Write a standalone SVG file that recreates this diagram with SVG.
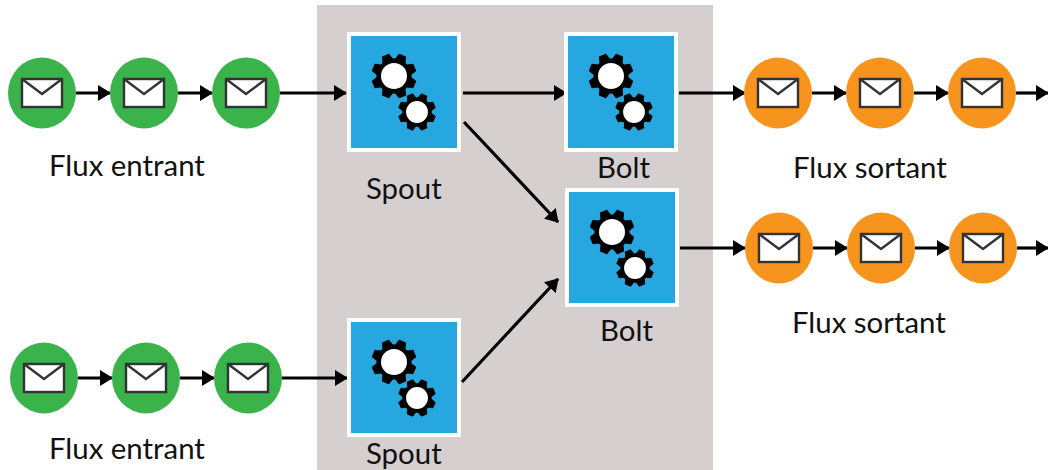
<svg xmlns="http://www.w3.org/2000/svg" width="1048" height="470" viewBox="0 0 1048 470">
<style>
text{font-family:Lato,"Open Sans",sans-serif;font-size:29.4px;fill:#111}
.c{stroke:#000;stroke-width:3.2;fill:none;marker-end:url(#a)}
.g{fill:#39b34a}.o{fill:#f7941d}
.e{fill:#fff;stroke:#333;stroke-width:2.4}
.f{fill:none;stroke:#333;stroke-width:2.4}
.b{fill:#27a7df;stroke:#fff;stroke-width:4}
.k{fill:#000;stroke:#000;stroke-width:1;stroke-linejoin:round}
</style>
<defs>
<marker id="a" markerUnits="userSpaceOnUse" markerWidth="13" markerHeight="16" refX="12" refY="8" orient="auto"><path d="M0 0L13 8L0 16Z" fill="#000"/></marker>
<g id="env"><rect class="e" x="-20" y="-14" width="40" height="28"/><path class="f" d="M-20-14L0 1L20-14"/></g>
<path id="tooth" class="k" d="M-5.5-15L-3.5-22H3.5L5.5-15Z"/>
<g id="gear">
<circle r="17.5" fill="#000"/>
<use href="#tooth" transform="rotate(22.5)"/><use href="#tooth" transform="rotate(67.5)"/>
<use href="#tooth" transform="rotate(112.5)"/><use href="#tooth" transform="rotate(157.5)"/>
<use href="#tooth" transform="rotate(202.5)"/><use href="#tooth" transform="rotate(247.5)"/>
<use href="#tooth" transform="rotate(292.5)"/><use href="#tooth" transform="rotate(337.5)"/>
<circle r="13" fill="#fff"/>
</g>
<g id="gears">
<use href="#gear" transform="translate(394 76)"/>
<use href="#gear" transform="translate(417 112) scale(.84)"/>
</g>
</defs>
<rect id="panel" x="317" y="5" width="396" height="465" fill="#d6cfd0"/>
<g id="connectors">
<path class="c" d="M76 93H110"/><path class="c" d="M178 93H212"/><path class="c" d="M280 93H346"/>
<path class="c" d="M78 378H112"/><path class="c" d="M180 378H214"/><path class="c" d="M282 378H347"/>
<path class="c" d="M463 93H566"/><path class="c" d="M464 122L558 222"/><path class="c" d="M462 382L558 279"/>
<path class="c" d="M679 93H745"/><path class="c" d="M812 93H846"/><path class="c" d="M914 93H948"/><path class="c" d="M1016 93H1048"/>
<path class="c" d="M680 248H745"/><path class="c" d="M813 248H847"/><path class="c" d="M915 248H949"/><path class="c" d="M1017 248H1048"/>
</g>
<g id="in1a"><ellipse class="g" cx="42" cy="93" rx="34" ry="35.5"/><use href="#env" x="42" y="93"/></g>
<g id="in1b"><ellipse class="g" cx="144" cy="93" rx="34" ry="35.5"/><use href="#env" x="144" y="93"/></g>
<g id="in1c"><ellipse class="g" cx="246" cy="93" rx="34" ry="35.5"/><use href="#env" x="246" y="93"/></g>
<g id="in2a"><ellipse class="g" cx="44" cy="378" rx="34" ry="35.5"/><use href="#env" x="44" y="378"/></g>
<g id="in2b"><ellipse class="g" cx="146" cy="378" rx="34" ry="35.5"/><use href="#env" x="146" y="378"/></g>
<g id="in2c"><ellipse class="g" cx="248" cy="378" rx="34" ry="35.5"/><use href="#env" x="248" y="378"/></g>
<g id="out1a"><ellipse class="o" cx="778" cy="93" rx="34" ry="35.5"/><use href="#env" x="778" y="93"/></g>
<g id="out1b"><ellipse class="o" cx="880" cy="93" rx="34" ry="35.5"/><use href="#env" x="880" y="93"/></g>
<g id="out1c"><ellipse class="o" cx="982" cy="93" rx="34" ry="35.5"/><use href="#env" x="982" y="93"/></g>
<g id="out2a"><ellipse class="o" cx="779" cy="248" rx="34" ry="35.5"/><use href="#env" x="779" y="248"/></g>
<g id="out2b"><ellipse class="o" cx="881" cy="248" rx="34" ry="35.5"/><use href="#env" x="881" y="248"/></g>
<g id="out2c"><ellipse class="o" cx="983" cy="248" rx="34" ry="35.5"/><use href="#env" x="983" y="248"/></g>
<g id="spout1"><rect class="b" x="349" y="34" width="110" height="116"/><use href="#gears"/></g>
<g id="bolt1"><rect class="b" x="566" y="34" width="110" height="116"/><use href="#gears" x="217"/></g>
<g id="bolt2"><rect class="b" x="567" y="190" width="110" height="115"/><use href="#gears" x="218" y="156"/></g>
<g id="spout2"><rect class="b" x="349" y="320" width="110" height="115"/><use href="#gears" y="286"/></g>
<g id="labels">
<text x="49" y="176">Flux entrant</text>
<text x="49" y="459">Flux entrant</text>
<text x="366" y="199">Spout</text>
<text x="366" y="464">Spout</text>
<text x="597" y="178">Bolt</text>
<text x="600" y="341">Bolt</text>
<text x="793" y="178">Flux sortant</text>
<text x="792" y="333">Flux sortant</text>
</g>
</svg>
